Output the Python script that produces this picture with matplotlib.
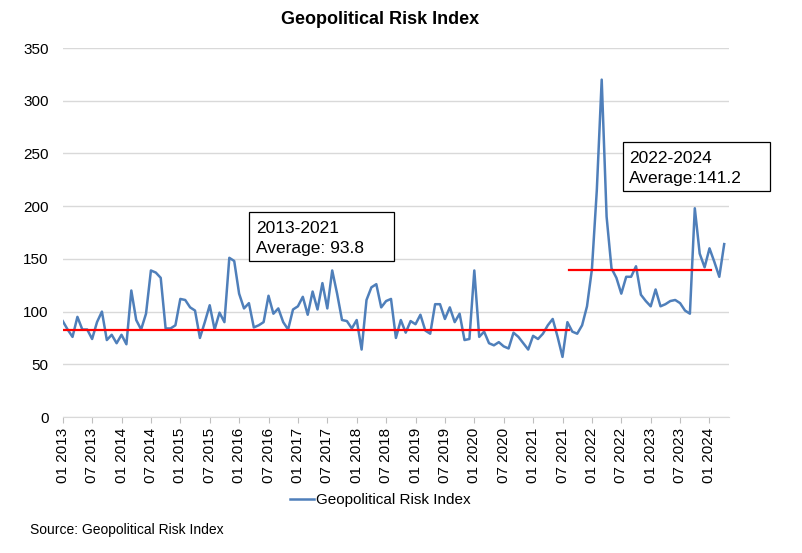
import matplotlib
matplotlib.use("Agg")
import matplotlib.pyplot as plt
from matplotlib.patches import Rectangle

plt.rcParams['font.family'] = ['Liberation Sans', 'DejaVu Sans']

# monthly index, Jan 2013 - Apr 2024
gpr = [91, 83, 76, 95, 83, 83, 74, 90, 100, 73, 78, 70,
       78, 69, 120, 92, 83, 98, 139, 137, 132, 84, 84, 87,
       112, 111, 104, 101, 75, 90, 106, 83, 99, 90, 151, 148,
       117, 103, 108, 85, 87, 90, 115, 98, 103, 90, 83, 102,
       105, 114, 97, 119, 102, 127, 103, 139, 117, 92, 91, 84,
       92, 64, 111, 123, 126, 104, 110, 112, 75, 92, 80, 91,
       88, 97, 82, 79, 107, 107, 93, 104, 90, 98, 73, 74,
       139, 76, 81, 70, 68, 71, 67, 65, 80, 76, 70, 64,
       77, 74, 79, 87, 93, 76, 57, 90, 81, 79, 87, 105,
       140, 215, 320, 190, 141, 132, 117, 133, 133, 143, 116, 110,
       105, 121, 105, 107, 110, 111, 108, 101, 98, 198, 155, 142,
       160, 147, 133, 164]

tick_labels = [m + " " + str(y) for y in range(2013, 2025) for m in ("01", "07")][:-1]
tick_pos = [6 * i for i in range(len(tick_labels))]

# red average lines as drawn: (start index, end index, level)
avg1 = (0, 103.4, 82.5)
avg2 = (103.4, 132.4, 139.5)

W, H = 802, 553


def fx(px):
    return px / W


def fy(py):
    return 1 - py / H


fig = plt.figure(figsize=(8.02, 5.53), dpi=100)
ax = fig.add_axes([0.0782, 0.2459, 0.8309, 0.6673])

x = list(range(len(gpr)))
line, = ax.plot(x, gpr, c='#4f7fba', lw=1.8, label='Geopolitical Risk Index', zorder=3)
ax.plot([avg1[0], avg1[1]], [avg1[2], avg1[2]], c='#ff0000', lw=1.6, zorder=4)
ax.plot([avg2[0], avg2[1]], [avg2[2], avg2[2]], c='#ff0000', lw=1.6, zorder=4)

ax.set_xlim(0, 136)
ax.set_ylim(0, 350)
ax.set_yticks(range(0, 351, 50))
ax.set_xticks(tick_pos)
ax.set_xticklabels(tick_labels, rotation=90, fontsize=11)
ax.tick_params(axis='y', length=0, labelsize=11, pad=10)
ax.tick_params(axis='x', length=4, color='#bfbfbf', pad=4)
ax.grid(axis='y', color='#d9d9d9', lw=1)
ax.set_axisbelow(True)
for s in ['top', 'right', 'left']:
    ax.spines[s].set_visible(False)
ax.spines['bottom'].set_color('#d9d9d9')

fig.text(fx(380), fy(20), 'Geopolitical Risk Index', ha='center', va='center',
         fontsize=13, fontweight='bold')

# text boxes (fixed size, like the Excel shapes)
fig.patches.append(Rectangle((fx(248.7), fy(260.7)), fx(394) - fx(248.7), fy(212.3) - fy(260.7),
                             transform=fig.transFigure, fc='white', ec='black', lw=0.9, zorder=5))
fig.patches.append(Rectangle((fx(622.7), fy(191)), fx(770) - fx(622.7), fy(141.7) - fy(191),
                             transform=fig.transFigure, fc='white', ec='black', lw=0.9, zorder=5))
fig.text(fx(256), fy(232.7), '2013-2021', va='baseline', fontsize=12.5, zorder=6)
fig.text(fx(256), fy(253), 'Average: 93.8', va='baseline', fontsize=12.5, zorder=6)
fig.text(fx(629), fy(162.7), '2022-2024', va='baseline', fontsize=12.5, zorder=6)
fig.text(fx(629), fy(183.3), 'Average:141.2', va='baseline', fontsize=12.5, zorder=6)

fig.legend(handles=[line], loc='center', bbox_to_anchor=(fx(380), fy(500)),
           frameon=False, fontsize=11, handlelength=1.6, handletextpad=0.1)

fig.text(fx(30), fy(530), 'Source: Geopolitical Risk Index', ha='left', va='center',
         fontsize=10)

fig.savefig('out.png', dpi=100)
